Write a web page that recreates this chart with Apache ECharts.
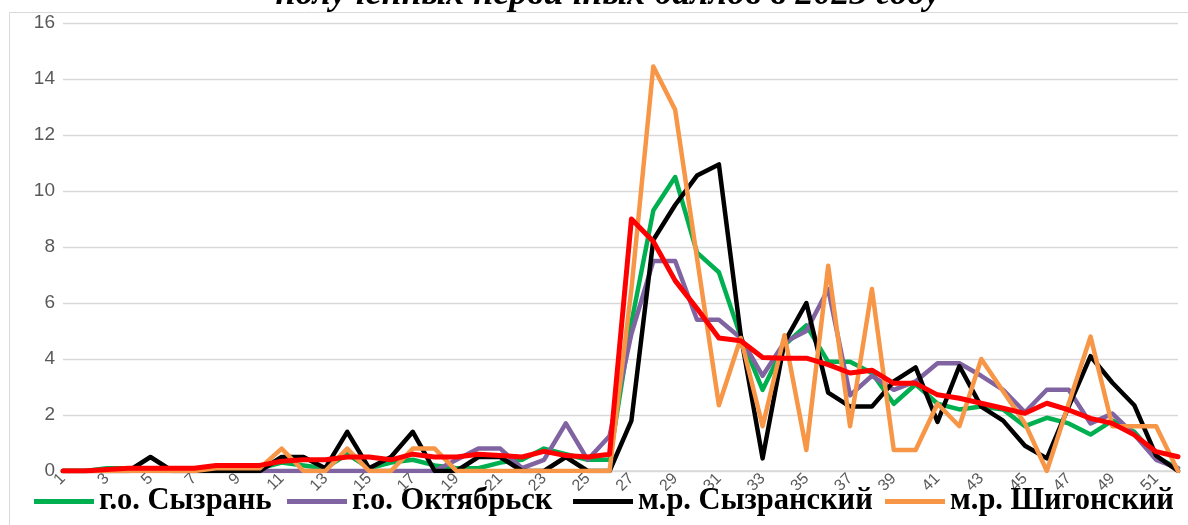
<!DOCTYPE html>
<html>
<head>
<meta charset="utf-8">
<script src="https://cdn.jsdelivr.net/npm/echarts@6/dist/echarts.min.js"></script>
<style>
html,body{margin:0;padding:0;background:#fff;}
#chart{width:1188px;height:525px;}
</style>
</head>
<body>
<div id="chart"></div>
<script>
const categories = Array.from({length: 52}, (_, i) => String(i + 1));

const seriesNames = ['г.о. Сызрань', 'г.о. Октябрьск', 'м.р. Сызранский', 'м.р. Шигонский', 'Самарская область'];

const syzran = [0,0,0.1,0.1,0.1,0.1,0.1,0.1,0.1,0.1,0.3,0.2,0.1,0.6,0.1,0.3,0.4,0.2,0.1,0.1,0.3,0.4,0.8,0.6,0.4,0.4,
  5.3,9.3,10.5,7.8,7.1,4.8,2.9,4.5,5.2,3.9,3.9,3.5,2.4,3.1,2.4,2.2,2.3,2.2,1.6,1.9,1.7,1.3,1.8,1.4,0.5,0.1];

const oktyabrsk = [0,0,0,0,0,0,0,0,0,0,0,0,0,0,0,0,0,0,0.4,0.8,0.8,0.1,0.4,1.7,0.4,1.25,
  4.9,7.5,7.5,5.4,5.4,4.75,3.4,4.6,5.0,6.5,2.7,3.4,2.9,3.2,3.85,3.85,3.4,2.9,2.1,2.9,2.9,1.7,2.05,1.3,0.4,0.1];

const syzranskiy = [0,0,0,0,0.5,0,0,0,0,0,0.5,0.5,0.1,1.4,0.1,0.5,1.4,0,0,0.5,0.5,0,0,0.5,0,0,
  1.8,8.25,9.5,10.55,10.95,4.85,0.45,4.6,6.0,2.8,2.3,2.3,3.2,3.7,1.75,3.75,2.3,1.8,0.9,0.45,2.3,4.1,3.15,2.35,0.55,0];

const shigonskiy = [0,0,0,0,0,0,0,0.1,0.1,0.1,0.8,0,0,0.8,0,0,0.8,0.8,0,0,0,0,0,0,0,0,
  6.5,14.45,12.9,7.6,2.35,4.75,1.6,4.85,0.75,7.33,1.6,6.5,0.75,0.75,2.4,1.6,4.0,2.85,1.7,0,2.4,4.8,1.6,1.6,1.6,0];

const region = [0,0,0.05,0.1,0.1,0.1,0.1,0.2,0.2,0.2,0.35,0.4,0.4,0.5,0.5,0.4,0.6,0.5,0.5,0.6,0.55,0.5,0.7,0.55,0.5,0.6,
  9.0,8.2,6.8,5.8,4.75,4.65,4.05,4.03,4.03,3.8,3.5,3.6,3.13,3.13,2.72,2.6,2.42,2.24,2.06,2.42,2.18,1.88,1.7,1.29,0.69,0.51];

const yTicks = {min: 0, max: 16, interval: 2};
const colors = ['#00b050', '#8064a2', '#000000', '#f79646', '#ff0000'];
const values = [syzran, oktyabrsk, syzranskiy, shigonskiy, region];

const chart = echarts.init(document.getElementById('chart'), null, {renderer: 'canvas'});

const legendLefts = [29, 282, 568, 880];
const legends = legendLefts.map((l, i) => ({
  left: l, top: 481,
  data: [seriesNames[i]],
  icon: 'rect',
  itemWidth: 60, itemHeight: 5, itemGap: 0,
  textStyle: {fontFamily: 'Liberation Serif', fontWeight: 'bold', fontSize: 30.5, color: '#000'}
}));

chart.setOption({
  animation: false,
  backgroundColor: '#fff',
  title: {
    text: '{i|полученных первичных баллов в }{b|2023}{i| году}',
    left: 603, top: -28, textAlign: 'center',
    textStyle: {
      rich: {
        i: {fontFamily: 'Liberation Serif', fontStyle: 'italic', fontSize: 36, color: '#000'},
        b: {fontFamily: 'Liberation Serif', fontStyle: 'italic', fontWeight: 'bold', fontSize: 36, color: '#000'}
      }
    }
  },
  graphic: [{
    type: 'rect', silent: true, z: -1,
    shape: {x: 9.5, y: 12.5, width: 1400, height: 700},
    style: {fill: 'none', stroke: '#d9d9d9', lineWidth: 1}
  }],
  legend: legends,
  grid: {left: 63, right: 10, top: 23, bottom: 54, containLabel: false},
  xAxis: {
    type: 'category', data: categories, boundaryGap: false,
    axisLine: {lineStyle: {color: '#d9d9d9', width: 1.5}},
    axisTick: {show: false},
    axisLabel: {interval: 1, rotate: 45, color: '#595959', fontSize: 16, fontFamily: 'Liberation Sans', margin: 5}
  },
  yAxis: {
    type: 'value', min: yTicks.min, max: yTicks.max, interval: yTicks.interval,
    axisLine: {show: false}, axisTick: {show: false},
    splitLine: {lineStyle: {color: '#d9d9d9', width: 1.3}},
    axisLabel: {color: '#595959', fontSize: 19, fontFamily: 'Liberation Sans', margin: 8}
  },
  series: values.map((v, i) => ({
    name: seriesNames[i], type: 'line', data: v,
    symbol: 'none', showSymbol: false,
    color: colors[i],
    lineStyle: {color: colors[i], width: i === 4 ? 5 : 4.5, join: 'round', cap: 'round'},
    z: 2 + i
  }))
});
</script>
</body>
</html>
